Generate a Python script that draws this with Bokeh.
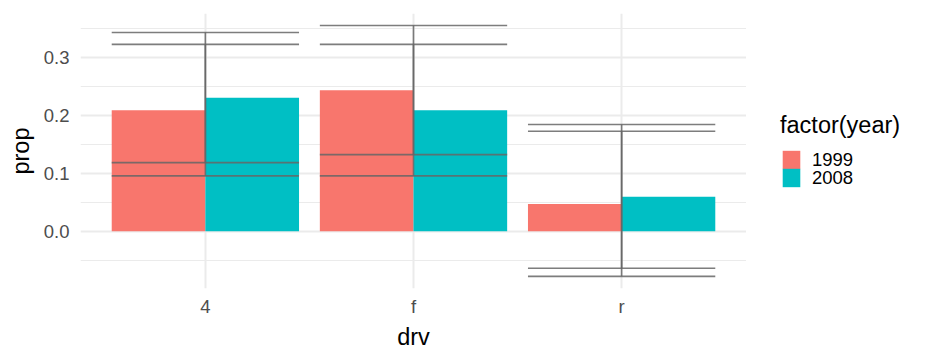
from bokeh.plotting import figure
from bokeh.models import (ColumnDataSource, Range1d, FactorRange, FixedTicker,
                          Legend, LegendItem, PrintfTickFormatter)
from bokeh.transform import dodge
from bokeh.layouts import row
from bokeh.embed import file_html
from bokeh.resources import INLINE

# ---- data ----
drv = ["4", "f", "r"]
years = ["1999", "2008"]
prop_1999 = [0.2094, 0.2436, 0.0470]
prop_2008 = [0.2308, 0.2094, 0.0598]
lower_1999 = [0.0957, 0.1325, -0.0780]
upper_1999 = [0.3231, 0.3557, 0.1730]
lower_2008 = [0.1187, 0.0957, -0.0640]
upper_2008 = [0.3436, 0.3231, 0.1845]
y_ticks = [0.0, 0.1, 0.2, 0.3]
y_minor = [-0.05, 0.05, 0.15, 0.25, 0.35]
colors = ["#F8766D", "#00BFC4"]

FONT = "Liberation Sans"

p = figure(width=746, height=360, output_backend="svg", toolbar_location=None,
           x_range=FactorRange(factors=drv, range_padding=0.1,
                               range_padding_units="absolute"),
           y_range=Range1d(-0.099, 0.3765),
           min_border_left=80, min_border_right=0,
           min_border_top=13, min_border_bottom=72)
p.outline_line_color = None
p.background_fill_color = "white"
p.border_fill_color = "white"

src1 = ColumnDataSource(dict(drv=drv, prop=prop_1999, lo=lower_1999, hi=upper_1999))
src2 = ColumnDataSource(dict(drv=drv, prop=prop_2008, lo=lower_2008, hi=upper_2008))

bw = 0.45
p.vbar(x=dodge("drv", -bw / 2, range=p.x_range), top="prop", bottom=0,
       width=bw, source=src1, fill_color=colors[0], line_color=None)
p.vbar(x=dodge("drv", bw / 2, range=p.x_range), top="prop", bottom=0,
       width=bw, source=src2, fill_color=colors[1], line_color=None)

ecol = "#666666"
ealpha = 0.85
ew = 1.6
for src in (src1, src2):
    p.segment(x0="drv", x1="drv", y0="lo", y1="hi", source=src,
              line_color=ecol, line_alpha=ealpha, line_width=ew)
    for col in ("lo", "hi"):
        p.segment(x0=dodge("drv", -0.45, range=p.x_range),
                  x1=dodge("drv", 0.45, range=p.x_range),
                  y0=col, y1=col, source=src,
                  line_color=ecol, line_alpha=ealpha, line_width=ew)

# axes
p.yaxis.ticker = FixedTicker(ticks=y_ticks, minor_ticks=y_minor)
p.yaxis.formatter = PrintfTickFormatter(format="%.1f")
for ax in (p.xaxis[0], p.yaxis[0]):
    ax.axis_line_color = None
    ax.major_tick_line_color = None
    ax.minor_tick_line_color = None
    ax.major_tick_out = 0
    ax.major_tick_in = 0
    ax.minor_tick_out = 0
    ax.minor_tick_in = 0
    ax.major_label_text_font = FONT
    ax.major_label_text_font_size = "18.5px"
    ax.major_label_text_color = "#4D4D4D"
    ax.axis_label_text_font = FONT
    ax.axis_label_text_font_size = "23.5px"
    ax.axis_label_text_font_style = "normal"
    ax.axis_label_text_color = "black"
p.xaxis.axis_label = "drv"
p.yaxis.axis_label = "prop"
p.yaxis.major_label_standoff = 11
p.xaxis.major_label_standoff = 7
p.yaxis.axis_label_standoff = 7
p.xaxis.axis_label_standoff = 4

# grid
p.ygrid.ticker = FixedTicker(ticks=y_ticks, minor_ticks=y_minor)
p.ygrid.grid_line_color = "#EBEBEB"
p.ygrid.grid_line_width = 2
p.ygrid.minor_grid_line_color = "#EBEBEB"
p.ygrid.minor_grid_line_width = 1
p.xgrid.grid_line_color = "#EBEBEB"
p.xgrid.grid_line_width = 2

# ---- legend panel ----
pl = figure(width=190, height=360, output_backend="svg", toolbar_location=None,
            x_range=FactorRange(factors=drv), y_range=Range1d(0, 1),
            x_axis_location=None, y_axis_location=None,
            min_border_left=0, min_border_right=0,
            min_border_top=0, min_border_bottom=0)
pl.outline_line_color = None
pl.grid.visible = False
k1 = pl.vbar(x="drv", top="prop", width=0.9, source=src1,
             fill_color=colors[0], line_color=None, visible=False)
k2 = pl.vbar(x="drv", top="prop", width=0.9, source=src2,
             fill_color=colors[1], line_color=None, visible=False)

common = dict(label_text_font=FONT, label_text_font_size="18.5px",
              label_text_color="black",
              glyph_width=22, glyph_height=23, label_height=23,
              spacing=0, label_standoff=10, padding=0, margin=0,
              border_line_color=None, background_fill_alpha=0,
              inactive_fill_alpha=0)
leg1 = Legend(items=[LegendItem(label=years[0], renderers=[k1])],
              location=(34, 117), title="factor(year)",
              title_text_font=FONT, title_text_font_size="23.5px",
              title_text_font_style="normal", title_text_color="black",
              title_standoff=9, **common)
leg2 = Legend(items=[LegendItem(label=years[1], renderers=[k2])],
              location=(34, 99), **common)
pl.add_layout(leg1, "center")
pl.add_layout(leg2, "center")

layout = row(p, pl)
open("out.html", "w").write(file_html(layout, INLINE))
